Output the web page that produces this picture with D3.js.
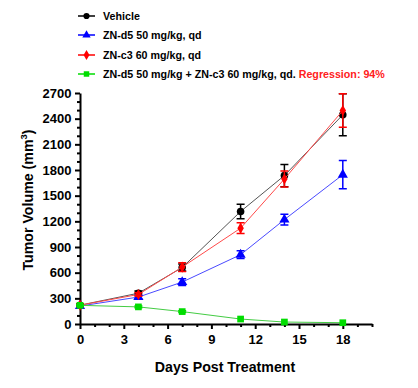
<!DOCTYPE html>
<html>
<head>
<meta charset="utf-8">
<script src="https://cdn.jsdelivr.net/npm/d3@7"></script>
<style>
  body { margin: 0; background: #fff; }
  text { font-family: "Liberation Sans", Arial, sans-serif; font-weight: bold; }
</style>
</head>
<body>
<svg width="418" height="388"></svg>
<script>
// data
var days = [0, 4, 7, 11, 14, 18];
var vehicle = [220, 360, 660, 1315, 1735, 2445];
var vehicleErr = [15, 25, 40, 85, 130, 245];
var znd5 = [210, 315, 490, 810, 1220, 1745];
var znd5Err = [15, 20, 40, 45, 62, 165];
var znc3 = [220, 345, 665, 1120, 1695, 2495];
var znc3Err = [15, 20, 50, 62, 93, 195];
var combo = [218, 200, 145, 58, 23, 15];
var comboErr = [10, 10, 10, 8, 5, 4];
var xTicks = [0, 3, 6, 9, 12, 15, 18];
var yTicks = [0, 300, 600, 900, 1200, 1500, 1800, 2100, 2400, 2700];

var series = [
  {name: "Vehicle", values: vehicle, err: vehicleErr, color: "#000", line: "#555", shape: d3.symbolCircle},
  {name: "ZN-d5 50 mg/kg, qd", values: znd5, err: znd5Err, color: "#0000ff", line: "#4a4aff", shape: d3.symbolTriangle},
  {name: "ZN-c3 60 mg/kg, qd", values: znc3, err: znc3Err, color: "#ff0000", line: "#ff4a4a", shape: d3.symbolDiamond},
  {name: "ZN-d5 50 mg/kg + ZN-c3 60 mg/kg, qd.", values: combo, err: comboErr, color: "#00dd00", line: "#44cc44", shape: d3.symbolSquare, extra: "Regression: 94%"}
];

var svg = d3.select("svg");
var x = d3.scaleLinear().domain([0, 20]).range([80, 372]);
var y = d3.scaleLinear().domain([0, 2700]).range([324, 93]);

var g = svg.append("g");

// axes
var xAxis = g.append("g")
    .attr("transform", "translate(0,324)")
    .call(d3.axisBottom(x).tickValues(xTicks).tickSize(5).tickSizeOuter(0));
g.append("g")
    .attr("transform", "translate(0,324)")
    .call(d3.axisBottom(x).tickValues(d3.range(0, 21).filter(function(d){ return d % 3 != 0; }))
      .tickSize(3).tickFormat("").tickSizeOuter(0))
    .select(".domain").remove();
var yAxis = g.append("g")
    .attr("transform", "translate(80,0)")
    .call(d3.axisLeft(y).tickValues(yTicks).tickFormat(d3.format("d")).tickSize(5).tickSizeOuter(0));
g.append("g")
    .attr("transform", "translate(80,0)")
    .call(d3.axisLeft(y).tickValues(d3.range(0, 2701, 100).filter(function(d){ return d % 300 != 0; }))
      .tickSize(3).tickFormat("").tickSizeOuter(0))
    .select(".domain").remove();

g.selectAll(".domain, .tick line").attr("stroke", "#000").attr("stroke-width", 2);
xAxis.selectAll("text").attr("font-size", 13).attr("dy", "0.9em");
yAxis.selectAll("text").attr("font-size", 13).attr("dx", "-0.05em");

// titles
svg.append("text")
    .attr("x", 225).attr("y", 372)
    .attr("text-anchor", "middle")
    .attr("font-size", 14.2)
    .text("Days Post Treatment");
var yt = svg.append("text")
    .attr("transform", "translate(33,200) rotate(-90)")
    .attr("text-anchor", "middle")
    .attr("font-size", 14.2);
yt.append("tspan").text("Tumor Volume (mm");
yt.append("tspan").attr("font-size", 9.5).attr("dy", -6).text("3");
yt.append("tspan").attr("dy", 6).text(")");

// series
var line = d3.line()
    .x(function(d, i) { return x(days[i]); })
    .y(function(d) { return y(d); });

series.forEach(function(s) {
  var sg = svg.append("g");
  sg.append("path")
      .datum(s.values)
      .attr("d", line)
      .attr("fill", "none")
      .attr("stroke", s.line)
      .attr("stroke-width", 1);
  s.values.forEach(function(v, i) {
    var e = s.err[i];
    if (e > 8) {
      var cx = x(days[i]);
      sg.append("path")
        .attr("d", "M" + cx + "," + y(v - e) + "V" + y(v + e) +
          "M" + (cx - 4) + "," + y(v - e) + "H" + (cx + 4) +
          "M" + (cx - 4) + "," + y(v + e) + "H" + (cx + 4))
        .attr("stroke", s.color)
        .attr("stroke-width", 1.5)
        .attr("fill", "none");
    }
  });
  sg.selectAll(".pt")
    .data(s.values)
    .enter().append("path")
    .attr("transform", function(d, i) { return "translate(" + x(days[i]) + "," + y(d) + ")"; })
    .attr("d", d3.symbol().type(s.shape).size(s.shape == d3.symbolDiamond ? 36 : 45))
    .attr("fill", s.color);
});

// legend
var legend = svg.append("g");
var rowY = [16, 35, 55, 74];
series.forEach(function(s, i) {
  var lg = legend.append("g").attr("transform", "translate(0," + rowY[i] + ")");
  lg.append("line").attr("x1", 78).attr("x2", 95)
    .attr("stroke", s.color).attr("stroke-width", 1.5);
  lg.append("path").attr("transform", "translate(86.5,0)")
    .attr("d", d3.symbol().type(s.shape).size(30))
    .attr("fill", s.color);
  var t = lg.append("text").attr("x", 103).attr("y", 4).attr("font-size", 10.7).text(s.name);
  if (s.extra) {
    t.append("tspan").attr("fill", "#ff2020").text(" " + s.extra);
  }
});
</script>
</body>
</html>
